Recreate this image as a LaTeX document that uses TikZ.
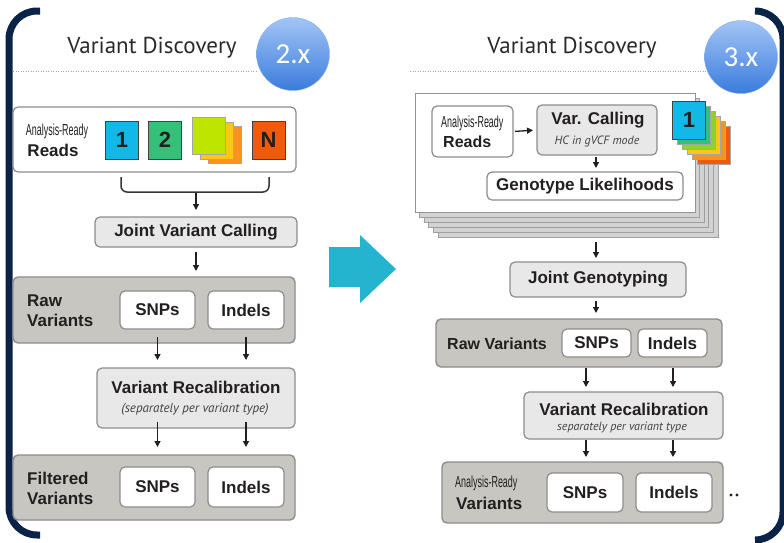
\documentclass[tikz,border=0pt]{standalone}
\usepackage{fontspec}
\setmainfont{Liberation Sans}
\newfontfamily\titlefont{PT Sans}
\newfontfamily\notefont{PT Sans}
\newfontfamily\condfont[FakeStretch=0.56]{Liberation Sans}
\newfontfamily\verfont{Carlito}
\usetikzlibrary{arrows.meta,calc}

\definecolor{navy}{HTML}{0B2347}
\definecolor{ink}{HTML}{231F20}
\definecolor{rim}{HTML}{8C8C8C}
\definecolor{panelgray}{HTML}{C8C6C1}
\definecolor{lightbox}{HTML}{E8E8E8}
\definecolor{sqcyan}{HTML}{13B9E6}
\definecolor{sqgreen}{HTML}{35C07A}
\definecolor{sqleaf}{HTML}{8CD32E}
\definecolor{sqlime}{HTML}{BDE500}
\definecolor{sqyellow}{HTML}{FFC61A}
\definecolor{sqorange}{HTML}{F7941D}
\definecolor{sqred}{HTML}{F15A0A}
\definecolor{bigarrow}{HTML}{25B4CF}
\definecolor{titlegray}{HTML}{2A2A2A}
\definecolor{orbtop}{HTML}{A3C5F5}
\definecolor{orbbottom}{HTML}{3A7BDD}

\tikzset{
  boxbase/.style={rounded corners=5pt, draw=rim, line width=1.2pt, inner sep=0pt, outer sep=0pt, text=ink},
  whitebox/.style={boxbase, fill=white, font=\fontsize{17}{19}\selectfont\bfseries},
  greybox/.style={boxbase, fill=lightbox, font=\fontsize{17}{19}\selectfont\bfseries, align=center},
  panel/.style={boxbase, fill=panelgray, line width=1.4pt},
  sq/.style={draw=ink!85, line width=1pt, inner sep=0pt, minimum width=33pt, minimum height=38pt, font=\fontsize{22}{22}\selectfont\bfseries, text=ink},
  sqback/.style={draw=gray!70, line width=0.8pt, inner sep=0pt, minimum width=33pt, minimum height=37pt},
  card/.style={draw=gray!75, fill=gray!35, line width=0.8pt, inner sep=0pt, minimum width=280pt, minimum height=119pt},
  label/.style={inner sep=0pt, text=ink, font=\fontsize{17}{20}\selectfont\bfseries, align=left},
  small/.style={inner sep=0pt, text=ink, font=\condfont\fontsize{16}{17}\selectfont},
  note/.style={inner sep=0pt, text=ink!85, font=\notefont\itshape\fontsize{13}{14}\selectfont},
  heading/.style={inner sep=0pt, text=titlegray, font=\titlefont\fontsize{23}{25}\selectfont},
  version/.style={circle, minimum size=73pt, inner sep=0pt, draw=orbbottom!60, line width=0.4pt,
    top color=orbtop, bottom color=orbbottom, text=white, font=\verfont\fontsize{29}{29}\selectfont},
  flow/.style={-{Triangle[length=6pt,width=6pt]}, line width=1.3pt, draw=ink},
  bracket/.style={navy, line width=7pt},
  dotline/.style={gray!70, line width=1pt, dash pattern=on 1pt off 1.5pt},
}

\begin{document}
\begin{tikzpicture}[x=1pt,y=-1pt]
\useasboundingbox (0,0) rectangle (784,542);
\fill[white] (0,0) rectangle (784,542);

% frame brackets
\draw[bracket] (40,11) -- (37,11) arc[start angle=270, end angle=180, radius=28] -- (9,507) arc[start angle=180, end angle=90, radius=28] -- (40,535);
\draw[bracket] (755,11) arc[start angle=270, end angle=360, radius=28] -- (783,512) arc[start angle=0, end angle=90, radius=28];

% ---------------- version 2.x ----------------
\node[heading] (titleA) at (152,48) {Variant Discovery};
\draw[dotline] (13,71) -- (258,71);
\node[version] (verA) at (293,54) {2.x};

\node[whitebox, minimum width=283pt, minimum height=65pt] (readsA) at (154.5,139.5) {};
\node[small] (arA) at (57,131) {Analysis-Ready};
\node[label] (rdA) at (53,150) {Reads};
\node[sq, fill=sqcyan] (s1) at (122,140) {1};
\node[sq, fill=sqgreen] (s2) at (165,140) {2};
\node[sqback, fill=sqorange] (s3c) at (225,145) {};
\node[sqback, fill=sqyellow] (s3b) at (217,140.5) {};
\node[sqback, fill=sqlime] (s3a) at (208.5,135.5) {};
\node[sq, fill=sqred] (sN) at (268.5,140) {N};

% brace collecting the samples
\coordinate (braceL) at (121,177);
\coordinate (braceR) at (269,177);
\coordinate (braceM) at (196,192);
\draw[ink!90, line width=1.5pt, rounded corners=6pt] (braceL) |- (braceM) -| (braceR);

\node[greybox, minimum width=202pt, minimum height=30pt] (jvc) at (196,232) {Joint Variant Calling};
\draw[flow, shorten <=1pt, shorten >=7pt] (braceM) -- (jvc.north);

\node[panel, minimum width=282pt, minimum height=66pt] (rawA) at (154,310) {};
\node[label, anchor=west] (rawAtxt) at (27,311) {Raw\\Variants};
\node[whitebox, minimum width=75pt, minimum height=38pt] (snpA) at (157.5,310) {SNPs};
\node[whitebox, minimum width=76pt, minimum height=38pt] (indA) at (246,310) {Indels};
\draw[flow, shorten <=5pt, shorten >=6pt] (jvc.south) -- (jvc.south |- rawA.north);

\node[greybox, minimum width=198pt, minimum height=60pt] (recA) at (196,398) {};
\node[label] (recAtxt) at (196,387) {Variant Recalibration};
\node[note] (recAnote) at (195,409) {(separately per variant type)};
\draw[flow, shorten <=8pt, shorten >=8pt] (snpA.south) -- (snpA.south |- recA.north);
\draw[flow, shorten <=8pt, shorten >=8pt] (indA.south) -- (indA.south |- recA.north);

\node[panel, minimum width=282pt, minimum height=65pt] (filA) at (154,487.5) {};
\node[label, anchor=west] (filAtxt) at (27,488) {Filtered\\Variants};
\node[whitebox, minimum width=75pt, minimum height=40pt] (snpB) at (157.5,487) {SNPs};
\node[whitebox, minimum width=76pt, minimum height=40pt] (indB) at (246,487) {Indels};
\draw[flow, shorten <=-6pt, shorten >=8pt] (snpA.south |- recA.south) -- (snpA.south |- filA.north);
\draw[flow, shorten <=-6pt, shorten >=8pt] (indA.south |- recA.south) -- (indA.south |- filA.north);

% ---------------- transition arrow ----------------
\fill[bigarrow] (329,247) -- (360,247) -- (360,235) -- (396,269) -- (360,303) -- (360,287) -- (329,287) -- cycle;

% ---------------- version 3.x ----------------
\node[heading] (titleB) at (572,48) {Variant Discovery};
\draw[dotline] (410,71) -- (706,71);
\node[version] (verB) at (741,57) {3.x};

% stack of per-sample cards
\foreach \k in {5,4,...,1}{
  \node[card] (card\k) at ({555+4.6*\k},{152.5+5*\k}) {};
}
\node[card, fill=white, draw=gray!85] (cardF) at (555,152.5) {};

% stack of per-sample squares
\node[sqback, minimum height=38pt, fill=sqred] (q5) at (714,145) {};
\node[sqback, minimum height=38pt, fill=sqorange] (q4) at (709,140) {};
\node[sqback, minimum height=38pt, fill=sqyellow] (q3) at (704,135) {};
\node[sqback, minimum height=38pt, fill=sqleaf] (q2) at (699,130) {};
\node[sqback, minimum height=38pt, fill=sqgreen] (q1) at (694,125) {};
\node[sq, fill=sqcyan] (q0) at (689,120) {1};

\node[whitebox, minimum width=81pt, minimum height=51pt] (readsB) at (472.5,131.5) {};
\node[small, anchor=west] (arB) at (441,123) {Analysis-Ready};
\node[label, anchor=west, font=\fontsize{16}{18}\selectfont\bfseries] (rdB) at (443,142) {Reads};

\node[greybox, minimum width=120pt, minimum height=50pt] (vc) at (597,130) {};
\node[label] (vctxt) at (598,120) {Var. Calling};
\node[note, font=\notefont\itshape\fontsize{12}{13}\selectfont] (vcnote) at (597,141) {HC in gVCF mode};
\draw[flow, shorten <=2pt, shorten >=4pt] (readsB.east) -- (vc.west);

\node[whitebox, minimum width=196pt, minimum height=28pt] (geno) at (585,186) {Genotype Likelihoods};
\draw[flow, shorten <=2pt, shorten >=4pt] (vc.south -| 596,0) -- (geno.north -| 596,0);

\node[greybox, minimum width=176pt, minimum height=35pt] (jg) at (598,279.5) {Joint Genotyping};
\draw[flow, shorten <=5pt, shorten >=4pt] (card5.south -| 596,0) -- (jg.north -| 596,0);

\node[panel, minimum width=286pt, minimum height=48pt] (rawB) at (579,343) {};
\node[label, font=\fontsize{16}{18}\selectfont\bfseries] (rawBtxt) at (497,344) {Raw Variants};
\node[whitebox, minimum width=69pt, minimum height=28pt] (snpC) at (596.5,343) {SNPs};
\node[whitebox, minimum width=69pt, minimum height=28pt] (indC) at (672.5,343) {Indels};
\draw[flow, shorten <=4pt, shorten >=6pt] (jg.south -| 596,0) -- (rawB.north -| 596,0);

\node[greybox, minimum width=199pt, minimum height=47pt] (recB) at (623.5,415.5) {};
\node[label] (recBtxt) at (624,409) {Variant Recalibration};
\node[note, font=\notefont\itshape\fontsize{12}{13}\selectfont] (recBnote) at (622,427) {separately per variant type};
\coordinate (colL) at (586,0);
\coordinate (colR) at (673,0);
\draw[flow, shorten <=1pt, shorten >=5pt] (rawB.south -| colL) -- (recB.north -| colL);
\draw[flow, shorten <=1pt, shorten >=5pt] (rawB.south -| colR) -- (recB.north -| colR);

\node[panel, minimum width=281pt, minimum height=61pt] (ardB) at (582.5,492.5) {};
\node[small, anchor=west] (ardBtxt) at (455,483) {Analysis-Ready};
\node[label, anchor=west] (varBtxt) at (456,503) {Variants};
\node[whitebox, minimum width=76pt, minimum height=39pt] (snpD) at (585,492.5) {SNPs};
\node[whitebox, minimum width=76pt, minimum height=39pt] (indD) at (674,492.5) {Indels};
\draw[flow, shorten <=1pt, shorten >=5pt] (recB.south -| colL) -- (ardB.north -| colL);
\draw[flow, shorten <=1pt, shorten >=5pt] (recB.south -| colR) -- (ardB.north -| colR);
\fill[ink] (731,495) circle[radius=1.6] (737,495) circle[radius=1.6];
\end{tikzpicture}
\end{document}
